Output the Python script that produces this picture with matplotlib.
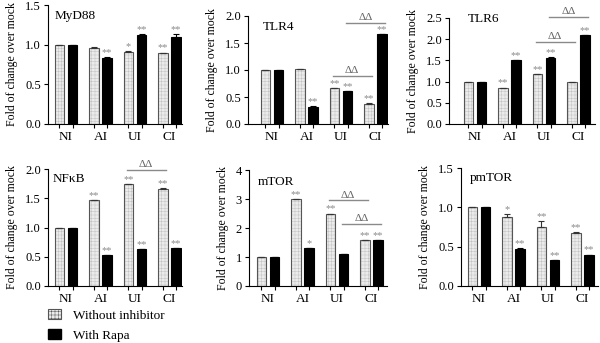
import numpy as np
import matplotlib
matplotlib.use("Agg")
import matplotlib.pyplot as plt
from matplotlib.patches import Patch

plt.rcParams['font.family'] = ['Liberation Serif', 'DejaVu Serif']
plt.rcParams['hatch.linewidth'] = 0.35

# data
groups = ['NI', 'AI', 'UI', 'CI']
series_names = ['Without inhibitor', 'With Rapa']

myd88_wo = [1.00, 0.96, 0.91, 0.90]
myd88_ra = [1.00, 0.83, 1.12, 1.10]
myd88_wo_err = [0, 0.005, 0.005, 0]
myd88_ra_err = [0, 0.01, 0.01, 0.035]
myd88_wo_star = ['', '', '*', '**']
myd88_ra_star = ['', '**', '**', '**']

tlr4_wo = [1.00, 1.01, 0.66, 0.37]
tlr4_ra = [1.00, 0.32, 0.61, 1.67]
tlr4_wo_err = [0, 0.01, 0.01, 0.01]
tlr4_ra_err = [0, 0.01, 0, 0]
tlr4_wo_star = ['', '', '**', '**']
tlr4_ra_star = ['', '**', '**', '**']

tlr6_wo = [1.00, 0.85, 1.18, 0.99]
tlr6_ra = [1.00, 1.50, 1.56, 2.10]
tlr6_wo_err = [0, 0.01, 0, 0.01]
tlr6_ra_err = [0, 0, 0.01, 0]
tlr6_wo_star = ['', '**', '**', '']
tlr6_ra_star = ['', '**', '**', '**']

nfkb_wo = [1.00, 1.47, 1.74, 1.66]
nfkb_ra = [1.00, 0.53, 0.63, 0.65]
nfkb_wo_err = [0, 0, 0, 0.01]
nfkb_ra_err = [0, 0, 0, 0]
nfkb_wo_star = ['', '**', '**', '**']
nfkb_ra_star = ['', '**', '**', '**']

mtor_wo = [1.00, 3.00, 2.50, 1.58]
mtor_ra = [1.00, 1.30, 1.10, 1.58]
mtor_wo_err = [0, 0, 0, 0]
mtor_ra_err = [0, 0, 0, 0]
mtor_wo_star = ['', '**', '**', '**']
mtor_ra_star = ['', '*', '', '**']

pmtor_wo = [1.00, 0.88, 0.75, 0.68]
pmtor_ra = [1.00, 0.47, 0.33, 0.40]
pmtor_wo_err = [0, 0.04, 0.07, 0.01]
pmtor_ra_err = [0, 0.01, 0, 0]
pmtor_wo_star = ['', '*', '**', '**']
pmtor_ra_star = ['', '**', '**', '**']

# delta-delta brackets: (from group, from series, to group, to series, y)
tlr4_dd = [(2, 0, 3, 0, 0.89), (2, 1, 3, 1, 1.87)]
tlr6_dd = [(2, 0, 3, 0, 1.93), (2, 1, 3, 1, 2.53)]
nfkb_dd = [(2, 0, 3, 0, 1.98)]
mtor_dd = [(2, 0, 3, 0, 2.95), (2, 1, 3, 1, 2.15)]

W, H = 600, 343
fig = plt.figure(figsize=(6, 3.43), dpi=100)
step = 34.5
off = 0.19
bw = 0.28
star_col = '#8a8a8a'
hatch_face = '#ebebeb'
hatch_line = '#c2c2c2'


def panel(box, name, tpos, wo, ra, wo_err, ra_err, wo_star, ra_star,
          ymax, yticks, yfmt, dd=None):
    left, right, top, bottom, ni = box
    ax = fig.add_axes([left / W, 1 - bottom / H, (right - left) / W, (bottom - top) / H])
    ax.set_xlim(-(ni - left) / step, (right - ni) / step)
    ax.set_ylim(0, ymax)
    x = np.arange(len(groups))
    xh = x - off
    xb = x + off
    ax.bar(xh, wo, bw, color=hatch_face, edgecolor=hatch_line, hatch='+++++', linewidth=0)
    ax.bar(xh, wo, bw, fill=False, edgecolor='#555555', linewidth=0.8)
    ax.bar(xb, ra, bw, color='black', edgecolor='black', linewidth=0.8)
    ax.errorbar(xh, wo, yerr=[[0] * 4, wo_err], fmt='none', ecolor='#333333',
                elinewidth=0.8, capsize=2, capthick=0.8)
    ax.errorbar(xb, ra, yerr=[[0] * 4, ra_err], fmt='none', ecolor='black',
                elinewidth=0.8, capsize=2, capthick=0.8)
    for xs, vals, errs, stars in [(xh, wo, wo_err, wo_star), (xb, ra, ra_err, ra_star)]:
        for xi, v, e, s in zip(xs, vals, errs, stars):
            if s:
                ax.annotate(s, (xi, v + e), xytext=(0, 0), textcoords='offset points',
                            ha='center', va='bottom', color=star_col, fontsize=7.5)
    if dd:
        for g1, s1, g2, s2, y in dd:
            x1 = g1 + (off if s1 else -off) - 0.05
            x2 = g2 + (off if s2 else -off) + 0.08
            ax.plot([x1, x2], [y, y], color='#8a8a8a', lw=1, clip_on=False)
            ax.annotate('ΔΔ', ((x1 + x2) / 2, y), xytext=(0, 0.5), textcoords='offset points',
                        ha='center', va='bottom', color='#666666', fontsize=8,
                        annotation_clip=False)
    for sp in ['top', 'right']:
        ax.spines[sp].set_visible(False)
    for sp in ['left', 'bottom']:
        ax.spines[sp].set_linewidth(0.8)
    ax.set_xticks(x)
    ax.set_xticklabels(groups, fontsize=9.5)
    ax.tick_params(axis='x', which='major', length=0, pad=5)
    ax.set_xticks(np.concatenate([xh, xb]), minor=True)
    ax.tick_params(axis='x', which='minor', length=3, width=0.8)
    ax.set_yticks(yticks)
    ax.set_yticklabels([yfmt.format(t) for t in yticks], fontsize=9)
    ax.tick_params(axis='y', length=3, width=0.8, pad=2)
    ax.set_ylabel('Fold of change over mock', fontsize=8.5, labelpad=5)
    ax.text(tpos[0] / (right - left), 1 - tpos[1] / (bottom - top), name,
            transform=ax.transAxes, ha='left', va='center', fontsize=9.5)
    return ax


panel((48, 182, 5, 124, 66), 'MyD88', (7, 11), myd88_wo, myd88_ra, myd88_wo_err,
      myd88_ra_err, myd88_wo_star, myd88_ra_star, 1.5, [0, 0.5, 1.0, 1.5], '{:.1f}')
panel((248, 388, 16, 124, 272), 'TLR4', (15, 11), tlr4_wo, tlr4_ra, tlr4_wo_err,
      tlr4_ra_err, tlr4_wo_star, tlr4_ra_star, 2.0, [0, 0.5, 1.0, 1.5, 2.0], '{:.1f}', tlr4_dd)
panel((449, 595, 18, 124, 475), 'TLR6', (19, 1), tlr6_wo, tlr6_ra, tlr6_wo_err,
      tlr6_ra_err, tlr6_wo_star, tlr6_ra_star, 2.5, [0, 0.5, 1.0, 1.5, 2.0, 2.5], '{:.1f}', tlr6_dd)
panel((48, 182, 169, 286, 66), 'NFκB', (5, 10), nfkb_wo, nfkb_ra, nfkb_wo_err,
      nfkb_ra_err, nfkb_wo_star, nfkb_ra_star, 2.0, [0, 0.5, 1.0, 1.5, 2.0], '{:.1f}', nfkb_dd)
panel((249, 387, 170, 286, 268), 'mTOR', (9, 12), mtor_wo, mtor_ra, mtor_wo_err,
      mtor_ra_err, mtor_wo_star, mtor_ra_star, 4, [0, 1, 2, 3, 4], '{:.0f}', mtor_dd)
panel((461, 598, 168, 286, 479), 'pmTOR', (9, 10), pmtor_wo, pmtor_ra, pmtor_wo_err,
      pmtor_ra_err, pmtor_wo_star, pmtor_ra_star, 1.5, [0, 0.5, 1.0, 1.5], '{:.1f}')

handles = [Patch(facecolor=hatch_face, edgecolor='#555555', hatch='+++++', linewidth=0.8),
           Patch(facecolor='black', edgecolor='black')]
fig.legend(handles, series_names, loc='upper left', bbox_to_anchor=(48 / W, 1 - 309 / H),
           frameon=False, fontsize=9.5, handlelength=1.0, handleheight=0.8,
           labelspacing=0.55, handletextpad=0.9, borderpad=0, borderaxespad=0)

fig.savefig('out.png', dpi=100)
